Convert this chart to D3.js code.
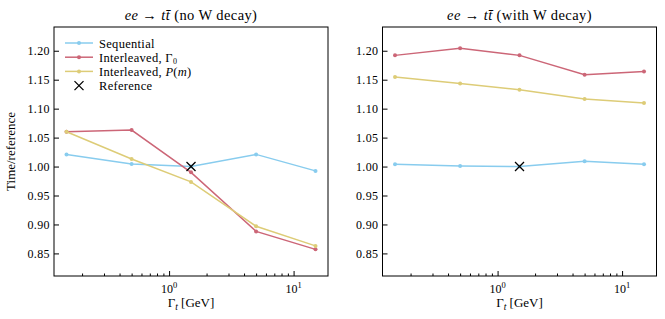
<!DOCTYPE html>
<html>
<head>
<meta charset="utf-8">
<script src="https://cdn.jsdelivr.net/npm/d3@7"></script>
<style>
  body { margin: 0; background: #fff; }
  text { font-family: "Liberation Serif", "DejaVu Serif", serif; fill: #000; }
</style>
</head>
<body>
<div id="chart"></div>
<script>
// Γt values (GeV) and timings relative to reference
const gammaT = [0.15, 0.5, 1.5, 5, 15];
const seqNoW = [1.021, 1.0045, 1.0, 1.021, 0.9925];
const g0NoW = [1.060, 1.063, 0.990, 0.888, 0.857];
const pmNoW = [1.060, 1.013, 0.9735, 0.897, 0.863];
const seqW = [1.004, 1.001, 1.0, 1.009, 1.004];
const g0W = [1.192, 1.2045, 1.192, 1.1586, 1.164];
const pmW = [1.1545, 1.1436, 1.1328, 1.1167, 1.1097];
const refPoint = [1.5, 1.0];
const yTicks = [0.85, 0.90, 0.95, 1.00, 1.05, 1.10, 1.15, 1.20];
const xMajor = [1, 10];
const xMinor = [0.2, 0.3, 0.4, 0.5, 0.6, 0.7, 0.8, 0.9, 2, 3, 4, 5, 6, 7, 8, 9];
const panelTags = ["no W decay", "with W decay"];

const colors = { seq: "#88CCEE", g0: "#CC6677", pm: "#DDCC77" };

const W = 665, H = 319;
const svg = d3.select("#chart").append("svg")
  .attr("width", W).attr("height", H);

const panels = [
  { left: 54, tag: panelTags[0], series: [[seqNoW, colors.seq], [g0NoW, colors.g0], [pmNoW, colors.pm]], legend: true },
  { left: 382.5, tag: panelTags[1], series: [[seqW, colors.seq], [g0W, colors.g0], [pmW, colors.pm]], legend: false }
];
const plotTop = 27, pw = 274, ph = 249;

panels.forEach(p => {
  const x = d3.scaleLog().domain([0.119, 18.9]).range([0, pw]);
  const y = d3.scaleLinear().domain([0.811, 1.241]).range([ph, 0]);
  const g = svg.append("g").attr("transform", `translate(${p.left},${plotTop})`);

  // y axis
  const ya = g.append("g").call(d3.axisLeft(y).tickValues(yTicks)
    .tickFormat(d3.format(".2f")).tickSizeInner(-5).tickSizeOuter(0).tickPadding(4));
  ya.select(".domain").remove();
  ya.selectAll("text").style("font-size", "12px").style("letter-spacing", "0.4px");

  // x axis majors
  const xa = g.append("g").attr("transform", `translate(0,${ph})`)
    .call(d3.axisBottom(x).tickValues(xMajor).tickFormat("").tickSizeInner(-5).tickSizeOuter(0));
  xa.select(".domain").remove();
  const xm = g.append("g").attr("transform", `translate(0,${ph})`)
    .call(d3.axisBottom(x).tickValues(xMinor).tickFormat("").tickSizeInner(-2.5).tickSizeOuter(0));
  xm.select(".domain").remove();
  xMajor.forEach(v => {
    const t = g.append("text").attr("x", x(v)).attr("y", ph + 17)
      .attr("text-anchor", "middle").style("font-size", "12px");
    t.append("tspan").text("10");
    t.append("tspan").attr("dy", -5).style("font-size", "8.5px").text(Math.round(Math.log10(v)));
  });

  // frame
  g.append("rect").attr("width", pw).attr("height", ph)
    .attr("fill", "none").attr("stroke", "#000").attr("stroke-width", 1);

  // series
  const line = d3.line().x((d, i) => x(gammaT[i])).y(d => y(d));
  p.series.forEach(([vals, c]) => {
    g.append("path").datum(vals).attr("d", line)
      .attr("fill", "none").attr("stroke", c).attr("stroke-width", 1.5);
    g.selectAll(null).data(vals).enter().append("circle")
      .attr("cx", (d, i) => x(gammaT[i])).attr("cy", d => y(d))
      .attr("r", 2).attr("fill", c);
  });

  // reference cross
  const cx = x(refPoint[0]), cy = y(refPoint[1]), s = 4.5;
  g.append("path").attr("d", `M${cx - s},${cy - s}L${cx + s},${cy + s}M${cx - s},${cy + s}L${cx + s},${cy - s}`)
    .attr("stroke", "#000").attr("stroke-width", 1.3);

  // title
  const tt = svg.append("text").attr("x", p.left + pw / 2).attr("y", 20)
    .attr("text-anchor", "middle").style("font-size", "14.5px").style("letter-spacing", "0.4px");
  tt.append("tspan").style("font-style", "italic").text("ee");
  tt.append("tspan").text(" \u2192 ");
  tt.append("tspan").style("font-style", "italic").text("t\u0074\u0304");
  tt.append("tspan").text(` (${p.tag})`);

  // x label
  const xl = svg.append("text").attr("x", p.left + pw / 2).attr("y", plotTop + ph + 31)
    .attr("text-anchor", "middle").style("font-size", "13px");
  xl.append("tspan").text("\u0393");
  xl.append("tspan").attr("dy", 3).style("font-size", "9.5px").style("font-style", "italic").text("t");
  xl.append("tspan").attr("dy", -3).text(" [GeV]");

  if (p.legend) {
    const items = [
      { c: colors.seq, label: [["Sequential"]] },
      { c: colors.g0, label: [["Interleaved, \u0393"], ["0", "sub"]] },
      { c: colors.pm, label: [["Interleaved, "], ["P", "i"], ["("], ["m", "i"], [")"]] },
      { c: null, label: [["Reference"]] }
    ];
    items.forEach((it, i) => {
      const ly = 16 + i * 14.2;
      if (it.c) {
        g.append("line").attr("x1", 11).attr("x2", 39).attr("y1", ly).attr("y2", ly)
          .attr("stroke", it.c).attr("stroke-width", 1.5);
        g.append("circle").attr("cx", 25).attr("cy", ly).attr("r", 2).attr("fill", it.c);
      } else {
        g.append("path").attr("d", `M${25 - s},${ly - s}L${25 + s},${ly + s}M${25 - s},${ly + s}L${25 + s},${ly - s}`)
          .attr("stroke", "#000").attr("stroke-width", 1.3);
      }
      const t = g.append("text").attr("x", 45).attr("y", ly + 4.5)
        .style("font-size", "12.5px").style("letter-spacing", "0.3px");
      it.label.forEach(([s2, k]) => {
        const ts = t.append("tspan").text(s2);
        if (k === "i") ts.style("font-style", "italic");
        if (k === "sub") ts.attr("dy", 2).style("font-size", "8px");
      });
    });
  }
});

// y label
svg.append("text").attr("transform", `translate(15,${plotTop + ph / 2}) rotate(-90)`)
  .attr("text-anchor", "middle").style("font-size", "13px").text("Time/reference");
</script>
</body>
</html>
